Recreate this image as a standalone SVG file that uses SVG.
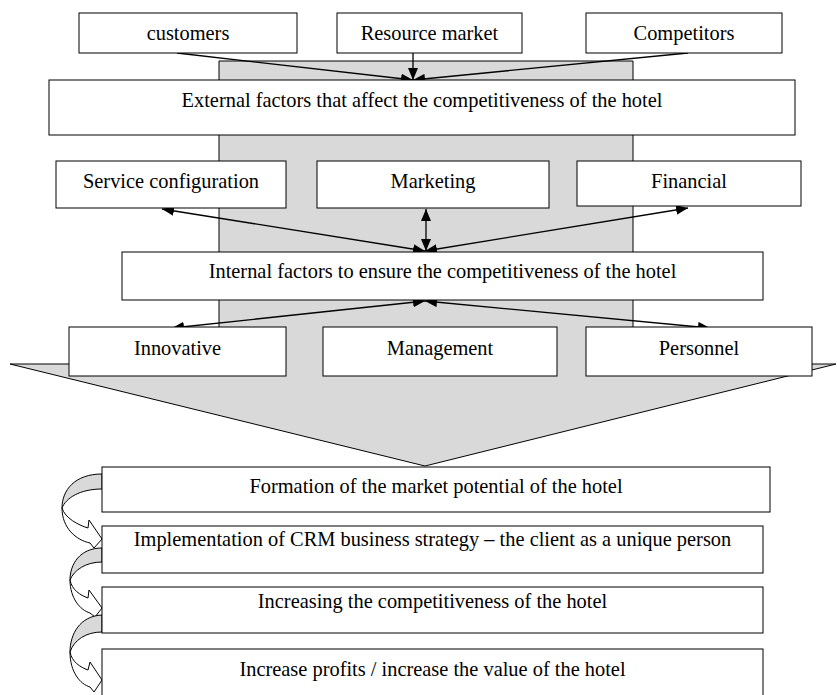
<svg xmlns="http://www.w3.org/2000/svg" width="837" height="695" viewBox="0 0 837 695">
<style>
.box{fill:#fff;stroke:#000;stroke-width:1}
.t{font-family:"Liberation Serif","Times New Roman",serif;font-size:20.4px;fill:#000;text-anchor:middle}
.con{fill:none;stroke:#000;stroke-width:1.3}
.bg{fill:#d9d9d9;stroke:#000;stroke-width:1}
.crs{fill:#d9d9d9;stroke:#000;stroke-width:1}
.frt{fill:#fff;stroke:#000;stroke-width:1}
</style>
<defs>
<marker id="ah" markerUnits="userSpaceOnUse" markerWidth="14" markerHeight="10" refX="12" refY="5" orient="auto-start-reverse" viewBox="0 0 14 10">
<path d="M0,0 L12,5 L0,10 z" fill="#000"/>
</marker>
</defs>

<g id="background">
<polygon class="bg" points="219,61 633,61 633,364 836,364 425,466 10,364 219,364"/>
</g>

<g id="curved-arrows">
<g id="ca1">
<path class="crs" d="M102,474 C75,474 62,490 62,508 C66,498 80,489 102,489 Z"/>
<path class="frt" d="M62,508 C62,528 76,540 90,543 L94,548 L102,539 L89,520 L88,528 C78,525 65,518 62,508 Z"/>
</g>
<g id="ca2">
<path class="crs" d="M102,548 C80,548 70,564 70,580 C74,570 86,562 102,562 Z"/>
<path class="frt" d="M70,580 C70,598 80,610 90,613 L95,617 L102,608 L89,590 L88,598 C80,595 72,590 70,580 Z"/>
</g>
<g id="ca3">
<path class="crs" d="M102,615 C80,616 70,634 70,652 C74,640 86,632 102,632 Z"/>
<path class="frt" d="M70,652 C70,672 80,684 90,687 L94,692 L102,680 L90,662 L88,670 C80,667 72,662 70,652 Z"/>
</g>
</g>

<g id="connectors">
<line class="con" x1="177" y1="53" x2="413" y2="80" marker-end="url(#ah)"/>
<line class="con" x1="413" y1="53" x2="413" y2="80" marker-end="url(#ah)"/>
<line class="con" x1="688" y1="53" x2="413" y2="80" marker-end="url(#ah)"/>
<line class="con" x1="162" y1="209" x2="425" y2="251" marker-start="url(#ah)" marker-end="url(#ah)"/>
<line class="con" x1="426" y1="209" x2="426" y2="251" marker-start="url(#ah)" marker-end="url(#ah)"/>
<line class="con" x1="688" y1="208" x2="425" y2="251" marker-start="url(#ah)" marker-end="url(#ah)"/>
<line class="con" x1="172" y1="328" x2="425" y2="301" marker-start="url(#ah)" marker-end="url(#ah)"/>
<line class="con" x1="710" y1="328" x2="425" y2="301" marker-start="url(#ah)" marker-end="url(#ah)"/>
</g>

<g id="customers"><rect class="box" x="79" y="13" width="218" height="40"/><text class="t" x="188" y="40">customers</text></g>
<g id="resource-market"><rect class="box" x="337" y="13" width="185" height="40"/><text class="t" x="429.5" y="40">Resource market</text></g>
<g id="competitors"><rect class="box" x="586" y="13" width="196" height="40"/><text class="t" x="684" y="40">Competitors</text></g>
<g id="external"><rect class="box" x="49" y="80" width="746" height="55"/><text class="t" x="422" y="107">External factors that affect the competitiveness of the hotel</text></g>

<g id="service-configuration"><rect class="box" x="56" y="161" width="230" height="47"/><text class="t" x="171" y="188">Service configuration</text></g>
<g id="marketing"><rect class="box" x="317" y="161" width="232" height="47"/><text class="t" x="433" y="188">Marketing</text></g>
<g id="financial"><rect class="box" x="577" y="161" width="224" height="45"/><text class="t" x="689" y="188">Financial</text></g>

<g id="internal"><rect class="box" x="122" y="252" width="641" height="48"/><text class="t" x="442.5" y="278">Internal factors to ensure the competitiveness of the hotel</text></g>

<g id="innovative"><rect class="box" x="69" y="327" width="217" height="49"/><text class="t" x="177.5" y="355">Innovative</text></g>
<g id="management"><rect class="box" x="323" y="327" width="234" height="49"/><text class="t" x="440" y="355">Management</text></g>
<g id="personnel"><rect class="box" x="586" y="327" width="226" height="49"/><text class="t" x="699" y="355">Personnel</text></g>

<g id="formation"><rect class="box" x="102" y="467" width="668" height="45"/><text class="t" x="436" y="493">Formation of the market potential of the hotel</text></g>
<g id="implementation"><rect class="box" x="102" y="526" width="661" height="47"/><text class="t" x="432.5" y="546">Implementation of CRM business strategy – the client as a unique person</text></g>
<g id="increasing"><rect class="box" x="102" y="587" width="661" height="46"/><text class="t" x="432.5" y="608">Increasing the competitiveness of the hotel</text></g>
<g id="increase-profits"><rect class="box" x="102" y="649" width="661" height="60"/><text class="t" x="432.5" y="676">Increase profits / increase the value of the hotel</text></g>
</svg>
